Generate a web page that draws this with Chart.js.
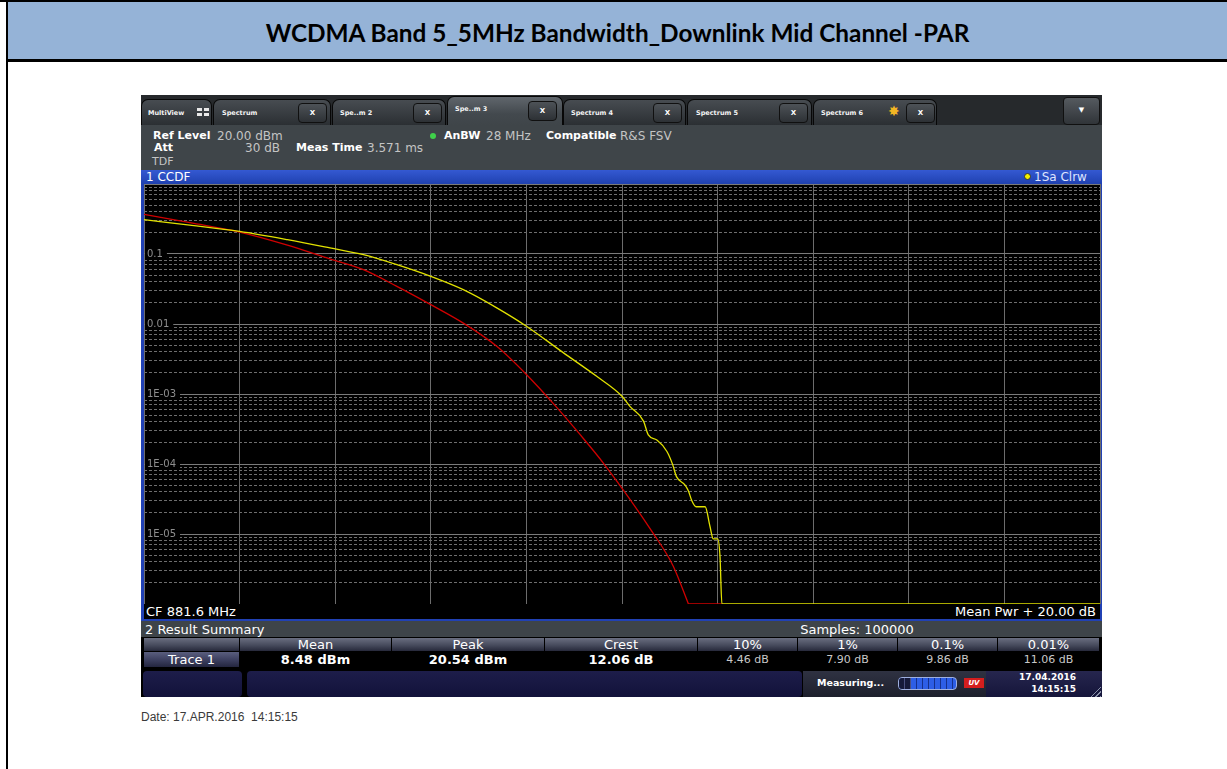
<!DOCTYPE html>
<html>
<head>
<meta charset="utf-8">
<script src="https://cdn.jsdelivr.net/npm/chart.js@4.4.1/dist/chart.umd.min.js"></script>
<style>
html,body{margin:0;padding:0;background:#fff;}
body{width:1227px;height:769px;position:relative;overflow:hidden;font-family:"DejaVu Sans",sans-serif;}
.a{position:absolute;box-sizing:border-box;}
.t{position:absolute;white-space:nowrap;line-height:14px;height:14px;}
.tab{position:absolute;top:99px;height:26px;border:1px solid #070707;border-bottom:none;border-radius:7px 7px 0 0;background:linear-gradient(#474c51,#2b2f33);box-sizing:border-box;}
.tab.act{top:96px;height:29px;background:linear-gradient(#60666c,#43494e 60%,#3f4549);}
.tl{position:absolute;top:108px;font:bold 6.5px "DejaVu Sans";color:#f4f4f4;white-space:nowrap;line-height:10px;}
.xb{position:absolute;top:103px;width:29px;height:20px;border:1px solid #101010;border-radius:4px;background:linear-gradient(#4d5257,#2d3135);color:#fff;font:bold 7px "DejaVu Sans";text-align:center;line-height:18px;box-sizing:border-box;}
.hc{position:absolute;top:638px;height:13px;background:linear-gradient(#6a6e80,#474b5d 55%,#27293b);color:#fff;font:13px "DejaVu Sans";text-align:center;line-height:14px;}
.vc{position:absolute;top:652px;height:15px;color:#c8c8c8;font:11px "DejaVu Sans";text-align:center;line-height:16px;}
.vb{color:#fff;font:bold 13px "DejaVu Sans";}
.lbl{color:#fff;font:bold 11px "DejaVu Sans";}
.val{color:#c4c4c4;font-size:12px;}
</style>
</head>
<body>
<!-- page frame -->
<div class="a" style="left:0;top:0;width:1227px;height:2px;background:#000"></div>
<div class="a" style="left:8px;top:2px;width:1219px;height:57px;background:#95b3d7"></div>
<div class="a" style="left:6px;top:59px;width:1221px;height:3px;background:#000"></div>
<div class="a" style="left:6px;top:0;width:2px;height:769px;background:#000"></div>
<div class="a" style="left:8px;top:2px;width:1219px;height:57px;text-align:center;line-height:57px;">
  <span id="title" style="display:inline-block;font-family:Lato,'Open Sans',sans-serif;font-weight:bold;font-size:22px;color:#000;line-height:1;vertical-align:middle;position:relative;top:2px;">WCDMA Band 5_5MHz Bandwidth_Downlink Mid Channel -PAR</span>
</div>

<!-- instrument -->
<div class="a" style="left:141px;top:95px;width:961px;height:602px;background:#000"></div>
<div class="a" style="left:141px;top:95px;width:961px;height:30px;background:#26292c"></div>

<div class="tab" style="left:141px;width:71px"></div>
<div class="tl" style="left:148px">MultiView</div>
<div class="a" style="left:197px;top:108px;width:5px;height:3px;background:#e8e8e8"></div>
<div class="a" style="left:204px;top:108px;width:5px;height:3px;background:#e8e8e8"></div>
<div class="a" style="left:197px;top:113px;width:5px;height:3px;background:#e8e8e8"></div>
<div class="a" style="left:204px;top:113px;width:5px;height:3px;background:#e8e8e8"></div>

<div class="tab" style="left:213px;width:118px"></div>
<div class="tl" style="left:222px">Spectrum</div>
<div class="xb" style="left:298px">X</div>

<div class="tab" style="left:332px;width:114px"></div>
<div class="tl" style="left:340px">Spe..m 2</div>
<div class="xb" style="left:413px">X</div>

<div class="tab act" style="left:447px;width:116px"></div>
<div class="tl" style="left:455px;top:104px">Spe..m 3</div>
<div class="xb" style="left:528px;top:101px">X</div>

<div class="tab" style="left:563px;width:123px"></div>
<div class="tl" style="left:571px">Spectrum 4</div>
<div class="xb" style="left:653px">X</div>

<div class="tab" style="left:687px;width:125px"></div>
<div class="tl" style="left:696px">Spectrum 5</div>
<div class="xb" style="left:779px">X</div>

<div class="tab" style="left:813px;width:124px"></div>
<div class="tl" style="left:821px">Spectrum 6</div>
<div class="a" style="left:888px;top:103px;font:14px 'DejaVu Sans';color:#f2b624;line-height:16px">✸</div>
<div class="xb" style="left:906px">X</div>

<div class="a" style="left:1063px;top:97px;width:37px;height:28px;border:1px solid #101010;border-radius:4px;background:linear-gradient(#555a5f,#303438);color:#fff;font:7px 'DejaVu Sans';text-align:center;line-height:24px">▼</div>

<!-- info area -->
<div class="a" style="left:141px;top:125px;width:961px;height:45px;background:#3f4549"></div>
<div class="t lbl" style="left:153px;top:129px">Ref Level</div>
<div class="t val" style="left:217px;top:129px">20.00 dBm</div>
<div class="t lbl" style="left:154px;top:141px">Att</div>
<div class="t val" style="left:240px;top:141px;width:40px;text-align:right">30 dB</div>
<div class="t lbl" style="left:296px;top:141px">Meas Time</div>
<div class="t val" style="left:367px;top:141px">3.571 ms</div>
<div class="t val" style="left:152px;top:155px;font-size:11px">TDF</div>
<div class="a" style="left:430px;top:133px;width:6px;height:6px;border-radius:3px;background:#3fd04a"></div>
<div class="t lbl" style="left:444px;top:129px">AnBW</div>
<div class="t val" style="left:486px;top:129px">28 MHz</div>
<div class="t lbl" style="left:546px;top:129px">Compatible</div>
<div class="t val" style="left:620px;top:129px">R&amp;S FSV</div>

<!-- plot window frame -->
<div class="a" style="left:141px;top:184px;width:3px;height:437px;background:#2141b4"></div>
<div class="a" style="left:1100px;top:184px;width:2px;height:437px;background:#2141b4"></div>
<div class="a" style="left:141px;top:619px;width:961px;height:2px;background:#2141b4"></div>

<canvas id="c" width="962" height="426" style="position:absolute;left:141px;top:181px;"></canvas>

<div class="a" style="left:141px;top:170px;width:961px;height:14px;background:linear-gradient(#3459d2,#1f41b0)"></div>
<div class="t" style="left:146px;top:170px;color:#fff;font-size:12px">1 CCDF</div>
<div class="a" style="left:1024px;top:173px;width:7px;height:7px;border-radius:4px;background:#f3f000;border:1px solid #333"></div>
<div class="t" style="left:1034px;top:170px;color:#dfe4ff;font-size:12px">1Sa Clrw</div>

<!-- CF line -->
<div class="a" style="left:144px;top:604px;width:956px;height:15px;background:#000"></div>
<div class="t" style="left:146px;top:605px;color:#fff;font-size:13px">CF 881.6 MHz</div>
<div class="t" style="left:900px;top:605px;width:196px;text-align:right;color:#fff;font-size:13px">Mean Pwr + 20.00 dB</div>

<!-- result summary -->
<div class="a" style="left:141px;top:621px;width:961px;height:16px;background:#3e4449"></div>
<div class="t" style="left:145px;top:623px;color:#fff;font-size:13px">2 Result Summary</div>
<div class="t" style="left:757px;top:623px;width:200px;text-align:center;color:#fff;font-size:13px">Samples: 100000</div>

<div class="hc" style="left:144px;width:95px"></div>
<div class="hc" style="left:240px;width:151px">Mean</div>
<div class="hc" style="left:392px;width:152px">Peak</div>
<div class="hc" style="left:545px;width:152px">Crest</div>
<div class="hc" style="left:698px;width:99px">10%</div>
<div class="hc" style="left:798px;width:99px">1%</div>
<div class="hc" style="left:898px;width:99px">0.1%</div>
<div class="hc" style="left:998px;width:101px">0.01%</div>

<div class="vc" style="left:144px;width:95px;background:linear-gradient(#5a5e7e,#3b3e5e 55%,#24263f);color:#fff;font-size:13px">Trace 1</div>
<div class="vc vb" style="left:240px;width:151px">8.48 dBm</div>
<div class="vc vb" style="left:392px;width:152px">20.54 dBm</div>
<div class="vc vb" style="left:545px;width:152px">12.06 dB</div>
<div class="vc" style="left:698px;width:99px">4.46 dB</div>
<div class="vc" style="left:798px;width:99px">7.90 dB</div>
<div class="vc" style="left:898px;width:99px">9.86 dB</div>
<div class="vc" style="left:998px;width:101px">11.06 dB</div>

<!-- status bar -->
<div class="a" style="left:143px;top:671px;width:99px;height:26px;border-radius:4px;background:linear-gradient(#1d1d4a,#12123a)"></div>
<div class="a" style="left:247px;top:671px;width:555px;height:26px;border-radius:4px;background:linear-gradient(#1d1d4a,#12123a)"></div>
<div class="a" style="left:803px;top:671px;width:183px;height:26px;background:linear-gradient(#2f3242,#1d1f2c)"></div>
<div class="t" style="left:817px;top:677px;color:#fff;font:bold 9.5px 'DejaVu Sans'">Measuring...</div>
<div class="a" style="left:898px;top:677px;width:59px;height:13px;border:1px solid #9fb0e0;border-radius:4px;background:repeating-linear-gradient(90deg,#2d5ee6 0 5px,#16308a 5px 6px)"></div>
<div class="a" style="left:899px;top:678px;width:12px;height:11px;border-radius:3px 0 0 3px;background:repeating-linear-gradient(90deg,#161a3a 0 5px,#4a5080 5px 6px)"></div>
<div class="a" style="left:964px;top:678px;width:20px;height:10px;background:#d41e1e;color:#fff;font:bold italic 7px 'DejaVu Sans';text-align:center;line-height:10px">UV</div>
<div class="a" style="left:986px;top:671px;width:116px;height:26px;background:linear-gradient(#26264e,#15153a)"></div>
<div class="t" style="left:1000px;top:671px;width:76px;text-align:right;color:#fff;font:bold 9px 'DejaVu Sans';line-height:12px">17.04.2016</div>
<div class="t" style="left:1000px;top:683px;width:76px;text-align:right;color:#fff;font:bold 9px 'DejaVu Sans';line-height:12px">14:15:15</div>
<div class="a" style="left:1088px;top:684px;width:13px;height:13px;background:repeating-linear-gradient(135deg,transparent 0 2px,#8890a8 2px 3px);clip-path:polygon(100% 0,100% 100%,0 100%)"></div>

<div class="t" style="left:141px;top:710px;color:#3a3a3a;font:12px 'Liberation Sans',Arial,sans-serif">Date: 17.APR.2016&nbsp;&nbsp;14:15:15</div>

<script>
// ---- data ----
// x axis: power above mean power (dB), 0 .. 20 dB (Mean Pwr + 20.00 dB)
const xGridDb = [0, 2, 4, 6, 8, 10, 12, 14, 16, 18, 20];

// measured CCDF (yellow trace, Trace 1)
const measuredDb   = [0, 1, 2, 3, 3.89, 4.59, 5.29, 6.0, 6.68, 7.38, 8.0, 8.77, 9.47, 10.0, 10.17, 10.45, 10.55, 10.73, 10.94, 11.06, 11.14, 11.32, 11.39, 11.46, 11.55, 11.74, 11.84, 11.91, 12.0, 12.05, 12.09, 20];
const measuredCcdf = [0.309, 0.257, 0.210, 0.160, 0.122, 0.0977, 0.0703, 0.0479, 0.0309, 0.0170, 0.0093, 0.0039, 0.00179, 0.00093, 0.00066, 0.00041, 0.00026, 0.00022, 0.000151, 0.000098, 0.000066, 0.000050, 0.000041, 0.000030, 0.0000245, 0.0000245, 0.0000129, 0.0000085, 0.0000085, 0.0000048, 0.000001, 0.000001];

// Gaussian reference CCDF (red trace)
const gaussDb   = [0, 0.96, 2.0, 3.0, 3.89, 4.59, 5.29, 6.0, 6.68, 7.38, 8.0, 8.63, 9.09, 9.61, 10.65, 11.07, 11.39];
const gaussCcdf = [0.368, 0.28, 0.206, 0.134, 0.085, 0.0597, 0.0345, 0.0189, 0.0103, 0.0048, 0.0019, 0.00065, 0.00028, 0.000103, 0.0000103, 0.0000035, 0.000001];
// red trace resting on the display floor
const gaussFloorDb   = [11.39, 12.09];
const gaussFloorCcdf = [0.000001, 0.000001];

// y axis (probability, logarithmic)
const yMajorTicks  = [0.000001, 0.00001, 0.0001, 0.001, 0.01, 0.1, 1];
const yMajorLabels = ['', '1E-05', '1E-04', '1E-03', '0.01', '0.1', ''];
const yMinorMult   = [2, 3, 4, 5, 6, 7, 8, 9];

// ---- title width fit ----
(function(){
  const el = document.getElementById('title');
  const w = el.getBoundingClientRect().width;
  el.style.fontSize = (22 * 704 / w).toFixed(2) + 'px';
})();

const yMinorTicks = [];
for (let d = 0; d < yMajorTicks.length - 1; d++) {
  for (const m of yMinorMult) yMinorTicks.push(yMajorTicks[d] * m);
}

function zeroFit(s) {
  s.paddingTop = 0; s.paddingBottom = 0; s.paddingLeft = 0; s.paddingRight = 0;
  if (s.isHorizontal()) s.height = 0; else s.width = 0;
}
const pts = (xs, ys) => xs.map((x, i) => ({x: x, y: ys[i]}));

new Chart(document.getElementById('c'), {
  type: 'line',
  data: {
    datasets: [
      {
        label: 'Trace 1',
        data: pts(measuredDb, measuredCcdf),
        borderColor: '#e2e200',
        borderWidth: 1.3,
        pointRadius: 0,
        cubicInterpolationMode: 'monotone',
        xAxisID: 'x', yAxisID: 'y'
      },
      {
        label: 'Gauss',
        data: pts(gaussDb, gaussCcdf),
        borderColor: '#d00000',
        borderWidth: 1.3,
        pointRadius: 0,
        cubicInterpolationMode: 'monotone',
        xAxisID: 'x', yAxisID: 'y'
      },
      {
        label: 'Gauss floor',
        data: pts(gaussFloorDb, gaussFloorCcdf),
        borderColor: '#d00000',
        borderWidth: 1.3,
        pointRadius: 0,
        xAxisID: 'x', yAxisID: 'y'
      }
    ]
  },
  options: {
    responsive: false,
    animation: false,
    devicePixelRatio: 1,
    events: [],
    layout: {padding: 3},
    plugins: {legend: {display: false}, tooltip: {enabled: false}},
    scales: {
      x: {
        type: 'linear', min: 0, max: 20,
        afterBuildTicks: s => { s.ticks = xGridDb.map(v => ({value: v})); },
        afterFit: zeroFit,
        ticks: {display: false},
        grid: {color: '#6c6c6c', lineWidth: 1, drawTicks: false},
        border: {display: false}
      },
      yMinor: {
        type: 'logarithmic', position: 'left', min: 0.000001, max: 1,
        afterBuildTicks: s => { s.ticks = yMinorTicks.map(v => ({value: v})); },
        afterFit: zeroFit,
        ticks: {display: false},
        grid: {color: '#6e6e6e', lineWidth: 1, drawTicks: false},
        border: {display: false, dash: [3, 2]}
      },
      y: {
        type: 'logarithmic', position: 'left', min: 0.000001, max: 1,
        afterBuildTicks: s => { s.ticks = yMajorTicks.map(v => ({value: v})); },
        afterFit: zeroFit,
        ticks: {
          mirror: true, padding: 3, color: '#8e8e8e',
          font: {family: 'DejaVu Sans', size: 10},
          callback: (v, i) => yMajorLabels[i],
          showLabelBackdrop: true,
          backdropColor: (c) => (c.tick && yMajorLabels[c.index]) ? '#000' : 'rgba(0,0,0,0)',
          backdropPadding: {top: 0, bottom: 0, left: 2, right: 4}
        },
        grid: {color: '#7a7a7a', lineWidth: 1, drawTicks: false},
        border: {display: false}
      }
    }
  }
});
</script>
</body>
</html>
